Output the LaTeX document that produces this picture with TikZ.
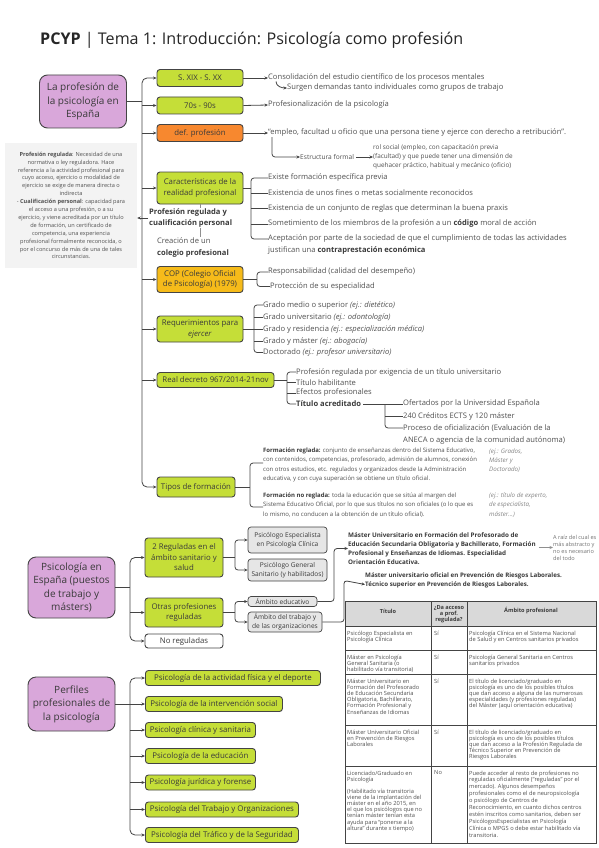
\documentclass[tikz,border=0pt]{standalone}
\usepackage{fontspec}
\setmainfont{Open Sans}
\usetikzlibrary{arrows.meta,calc}
\definecolor{pinkb}{HTML}{D9A7DA}
\definecolor{limeb}{HTML}{C5DE38}
\definecolor{orangeb}{HTML}{F7882F}
\definecolor{goldb}{HTML}{F6BB1A}
\definecolor{grayb}{HTML}{E6E6E6}
\definecolor{notec}{HTML}{F3F3F3}
\definecolor{txt}{HTML}{505050}
\definecolor{btxt}{HTML}{3A3A3A}
\definecolor{linec}{HTML}{444444}
\definecolor{hdr}{HTML}{D9D9D9}
\begin{document}
\begin{tikzpicture}[x=1pt,y=-1pt,
  every node/.style={inner sep=0pt, text=txt},
  box/.style={draw=linec, line width=0.9pt, rounded corners=3pt, align=center, text=btxt, font=\fontsize{7.8}{10.5}\selectfont},
  gbox/.style={box, fill=limeb},
  pbox/.style={box, fill=pinkb, rounded corners=8pt, font=\fontsize{10}{13.5}\selectfont},
  grbox/.style={box, fill=grayb, line width=0.7pt, font=\fontsize{6.6}{8.6}\selectfont},
  conn/.style={draw=linec, line width=0.8pt},
  thinl/.style={draw=linec!60, line width=0.5pt},
  arr/.style={-{Stealth[length=3.5pt,width=3pt]}},
  barr/.style={{Stealth[length=3.5pt,width=3pt]}-{Stealth[length=3.5pt,width=3pt]}},
  lt/.style={anchor=west, font=\fontsize{7.6}{8.5}\selectfont},
  st/.style={anchor=west, font=\fontsize{6}{9.3}\selectfont, align=left},
  ex/.style={anchor=west, font=\fontsize{6.2}{9.3}\selectfont\itshape, align=left, text=txt!70},
  tt/.style={anchor=north west, font=\fontsize{5.7}{6.1}\selectfont, align=left},
]
\useasboundingbox (0,0) rectangle (599,848);
\fill[white] (0,0) rectangle (599,848);

% title
\node[anchor=west, font=\fontsize{16.1}{18}\selectfont, text=black!85] (title) at (40,40) {\textbf{PCYP} | Tema 1: Introducción: Psicología como profesión};

% ---------- section 1
\node[pbox, minimum width=87pt, minimum height=53pt] (lp) at (83,101.5) {La profesión de\\la psicología en\\España};
\node[gbox, minimum width=86pt, minimum height=17pt] (s19) at (200,78) {S. XIX - S. XX};
\node[gbox, minimum width=86pt, minimum height=17pt] (s70) at (200,105.5) {70s - 90s};
\node[box, fill=orangeb, minimum width=86pt, minimum height=17pt] (def) at (200,133) {def. profesión};
\node[gbox, minimum width=86pt, minimum height=32pt] (car) at (200,188) {Características de la\\realidad profesional};
\node[box, fill=goldb, minimum width=86pt, minimum height=26pt] (cop) at (200,279.5) {COP (Colegio Oficial\\de Psicología) (1979)};
\node[gbox, minimum width=86pt, minimum height=26pt] (req) at (200,329) {Requerimientos para\\\textit{ejercer}};
\node[gbox, minimum width=117pt, minimum height=15pt] (rd) at (215.5,380) {Real decreto 967/2014-21nov};
\node[gbox, minimum width=78pt, minimum height=20pt] (tip) at (196,487) {Tipos de formación};

\coordinate (sp) at (142,0);
\draw[conn] (lp.east) -- (sp |- lp.east);
\draw[conn, rounded corners=5pt, barr] (s19.west) -- (sp |- s19.west) -- (sp |- tip.west) -- (tip.west);
\foreach \n in {s70,def,car,cop,req,rd} { \draw[conn, arr] (sp |- \n.west) -- (\n.west); }

% right texts of first boxes
\node[lt] (t1) at (268,78) {Consolidación del estudio científico de los procesos mentales};
\node[lt] (t2) at (287,88) {Surgen demandas tanto individuales como grupos de trabajo};
\node[lt] (t3) at (268,105) {Profesionalización de la psicología};
\node[lt] (t4) at (268,133) {“empleo, facultad u oficio que una persona tiene y ejerce con derecho a retribución”.};
\draw[conn, arr] (s19.east) -- (t1.west);
\draw[conn, arr] (s70.east) -- (t3.west);
\draw[conn, arr] (def.east) -- (t4.west);
\coordinate (c1) at (276,81.5);
\draw[conn, arr] (c1) to[out=-90, in=180] (t2.west);
\coordinate (c2) at (272,137);
\node[lt, font=\fontsize{6.6}{8.5}\selectfont] (ef) at (300,157) {Estructura formal};
\draw[conn, arr, rounded corners=3pt] (c2) |- (ef.west);
\node[anchor=west, font=\fontsize{6.4}{9}\selectfont, align=left] (rol) at (373,157) {rol social (empleo, con capacitación previa\\(facultad) y que puede tener una dimensión de\\quehacer práctico, habitual y mecánico (oficio)};
\draw[conn, arr] ([xshift=2pt]ef.east) -- (rol.west);

% note box
\node[fill=notec, minimum width=132pt, minimum height=125pt, align=center, font=\fontsize{5.6}{7.9}\selectfont] (note) at (71,205.5) {\textbf{Profesión regulada}: Necesidad de una\\normativa o ley reguladora. Hace\\referencia a la actividad profesional para\\cuyo acceso, ejercicio o modalidad de\\ejercicio se exige de manera directa o\\indirecta\\- \textbf{Cualificación personal}: capacidad para\\el acceso a una profesión, o a su\\ejercicio, y viene acreditada por un título\\de formación, un certificado de\\competencia, una experiencia\\profesional formalmente reconocida, o\\por el concurso de más de una de tales\\circunstancias.};

\node[anchor=west, align=left, font=\fontsize{7.6}{11.5}\selectfont\bfseries, text=btxt] (preg) at (149,218) {Profesión regulada y\\cualificación personal};
\node[anchor=north west, align=left, font=\fontsize{7.6}{12.5}\selectfont] (crea) at (157,237) {Creación de un\\\textbf{\textcolor{btxt}{colegio profesional}}};
\draw[thinl] (car.south) -- (car.south |- preg.north);
\draw[thinl] (car.south |- preg.south) -- (car.south |- crea.north);
\draw[conn, arr] ([xshift=-1pt]preg.west) -- (note.east |- preg.west);

% characteristics
\coordinate (bk1) at (251,0);
\node[lt] (e1) at (268,178) {Existe formación específica previa};
\node[lt] (e2) at (268,193) {Existencia de unos fines o metas socialmente reconocidos};
\node[lt] (e3) at (268,208.5) {Existencia de un conjunto de reglas que determinan la buena praxis};
\node[lt] (e4) at (268,224) {Sometimiento de los miembros de la profesión a un \textbf{\textcolor{btxt}{código}} moral de acción};
\node[lt] (e5) at (268,239) {Aceptación por parte de la sociedad de que el cumplimiento de todas las actividades};
\node[lt] (e5b) at (268,250.5) {justifican una \textbf{\textcolor{btxt}{contraprestación económica}}};
\draw[conn] (car.east) -- (bk1 |- car.east);
\draw[conn, rounded corners=3pt] (e1.west) -- (bk1 |- e1.west) -- (bk1 |- e5.west) -- (e5.west);
\foreach \n in {e2,e3,e4} { \draw[conn] (bk1 |- \n.west) -- (\n.west); }

% COP
\coordinate (bk2) at (257,0);
\node[lt] (r1) at (268,272) {Responsabilidad (calidad del desempeño)};
\node[lt] (r2) at (270,286.5) {Protección de su especialidad};
\draw[conn] (cop.east) -- (bk2 |- cop.east);
\draw[conn, rounded corners=3pt] (r1.west) -- (bk2 |- r1.west) -- (bk2 |- r2.west) -- (r2.west);

% requirements
\coordinate (bk3) at (254,0);
\node[lt] (q1) at (263,305) {Grado medio o superior \textit{(ej.: dietético)}};
\node[lt] (q2) at (263,317) {Grado universitario \textit{(ej.: odontología)}};
\node[lt] (q3) at (263,329) {Grado y residencia \textit{(ej.: especialización médica)}};
\node[lt] (q4) at (263,341) {Grado y máster \textit{(ej.: abogacía)}};
\node[lt] (q5) at (263,352.5) {Doctorado \textit{(ej.: profesor universitario)}};
\draw[conn] (req.east) -- (bk3 |- req.east);
\draw[conn, rounded corners=3pt] (q1.west) -- (bk3 |- q1.west) -- (bk3 |- q5.west) -- (q5.west);
\foreach \n in {q2,q3,q4} { \draw[conn] (bk3 |- \n.west) -- (\n.west); }

% real decreto
\coordinate (bk4) at (287,0);
\node[lt] (d1) at (296,372) {Profesión regulada por exigencia de un título universitario};
\node[lt] (d2) at (296,382.5) {Título habilitante};
\node[lt] (d3) at (296,393) {Efectos profesionales};
\node[lt, font=\fontsize{7.6}{8.5}\selectfont\bfseries, text=btxt] (d4) at (296,404) {Título acreditado};
\draw[conn] (rd.east) -- (bk4 |- rd.east);
\draw[conn, rounded corners=3pt] (d1.west) -- (bk4 |- d1.west) -- (bk4 |- d4.west) -- (d4.west);
\foreach \n in {d2,d3} { \draw[conn] (bk4 |- \n.west) -- (\n.west); }
\coordinate (bk5) at (385,0);
\node[lt] (a1) at (403,404) {Ofertados por la Universidad Española};
\node[lt] (a2) at (403,416) {240 Créditos ECTS y 120 máster};
\node[lt] (a3) at (403,428) {Proceso de oficialización (Evaluación de la};
\node[lt] (a3b) at (403,440) {ANECA o agencia de la comunidad autónoma)};
\draw[conn] ([xshift=2pt]d4.east) -- (a1.west);
\draw[conn, rounded corners=3pt] (bk5 |- a1.west) -- (bk5 |- a3.west) -- (a3.west);
\draw[conn] (bk5 |- a2.west) -- (a2.west);

% tipos de formacion
\coordinate (bk6) at (250,0);
\node[st] (fr) at (263,465) {\textbf{\textcolor{btxt}{Formación reglada:}} conjunto de enseñanzas dentro del Sistema Educativo,\\con contenidos, competencias, profesorado, admisión de alumnos, conexión\\con otros estudios, etc. regulados y organizados desde la Administración\\educativa, y con cuya superación se obtiene un título oficial.};
\node[st] (fn) at (263,505) {\textbf{\textcolor{btxt}{Formación no reglada:}} toda la educación que se sitúa al margen del\\Sistema Educativo Oficial, por lo que sus títulos no son oficiales (o lo que es\\lo mismo, no conducen a la obtención de un título oficial).};
\node[ex] (frx) at (489,460.5) {(ej.: Grados,\\Máster y\\Doctorado)};
\node[ex] (fnx) at (489,505) {(ej.: título de experto,\\de especialista,\\máster...)};
\coordinate (f1) at (263,463);
\coordinate (f2) at (263,507);
\draw[conn] (tip.east) -- (bk6 |- tip.east);
\draw[conn, rounded corners=3pt] (f1) -- (bk6 |- f1) -- (bk6 |- f2) -- (f2);

% ---------- section 2
\node[pbox, minimum width=87pt, minimum height=61pt] (pe) at (71.5,587.5) {Psicología en\\España (puestos\\de trabajo y\\másters)};
\coordinate (sp2) at (130,0);
\node[gbox, minimum width=78pt, minimum height=39pt] (reg) at (184,557.5) {2 Reguladas en el\\ámbito sanitario y\\salud};
\node[gbox, minimum width=78pt, minimum height=29pt] (otr) at (184,612.5) {Otras profesiones\\reguladas};
\node[box, fill=white, minimum width=78pt, minimum height=14pt] (nor) at (184,641) {No reguladas};
\draw[conn] (pe.east) -- (sp2 |- pe.east);
\draw[conn, rounded corners=5pt, barr] (reg.west) -- (sp2 |- reg.west) -- (sp2 |- nor.west) -- (nor.west);
\draw[conn, arr] (sp2 |- otr.west) -- (otr.west);

\node[grbox, minimum width=79pt, minimum height=26pt] (pepc) at (287.5,540) {Psicólogo Especialista\\en Psicología Clínica};
\node[grbox, minimum width=79pt, minimum height=22pt] (pgs) at (287.5,570) {Psicólogo General\\Sanitario (y habilitados)};
\node[grbox, minimum width=69pt, minimum height=10pt] (aed) at (282.5,601.5) {Ámbito educativo};
\node[grbox, minimum width=74pt, minimum height=20pt] (atr) at (285,622) {Ámbito del trabajo y\\de las organizaciones};
\coordinate (bk7) at (235,0);
\draw[conn] (reg.east) -- (bk7 |- reg.east);
\draw[conn, rounded corners=3pt, barr] (pepc.west) -- (bk7 |- pepc.west) -- (bk7 |- pgs.west) -- (pgs.west);
\draw[conn] (otr.east) -- (bk7 |- otr.east);
\draw[conn, rounded corners=3pt, barr] (aed.west) -- (bk7 |- aed.west) -- (bk7 |- atr.west) -- (atr.west);

\node[anchor=west, align=left, font=\fontsize{6.3}{9}\selectfont\bfseries, text=btxt] (mf) at (348,548.5) {Máster Universitario en Formación del Profesorado de\\Educación Secundaria Obligatoria y Bachillerato, Formación\\Profesional y Enseñanzas de Idiomas. Especialidad\\Orientación Educativa.};
\node[anchor=west, align=left, font=\fontsize{6.2}{9}\selectfont\bfseries, text=btxt] (mp) at (365,580.5) {Máster universitario oficial en Prevención de Riesgos Laborales.\\Técnico superior en Prevención de Riesgos Laborales.};
\node[anchor=west, align=left, font=\fontsize{5.6}{7}\selectfont, text=txt!80] (nota2) at (553,547.5) {A raíz del cual es\\más abstracto y\\no es necesario\\del todo};
\coordinate (m1) at (334,0);
\coordinate (m2) at (344,0);
\draw[conn, rounded corners=3pt, arr] (aed.east) -- (m1 |- aed.east) -- (m1 |- mf.west) -- (mf.west);
\draw[conn, rounded corners=3pt, arr] (atr.east) -- (m2 |- atr.east) -- (m2 |- mp.west) -- ([yshift=-4pt]mp.west);
\draw[thinl, arr] ([xshift=3pt]mf.east |- nota2.west) -- (nota2.west);

% table
\fill[hdr] (345,601) rectangle (596,626);
\draw[linec, line width=0.5pt] (345,626) -- (596,626) (345,650) -- (596,650) (345,674) -- (596,674) (345,725) -- (596,725) (345,766) -- (596,766);
\draw[linec, line width=0.5pt] (431,601) -- (431,843) (467,601) -- (467,843);
\draw[linec, line width=1pt] (345,601) rectangle (596,843);
\node[font=\fontsize{5.6}{6.2}\selectfont\bfseries, text=btxt] (h1) at (388,611) {Título};
\node[font=\fontsize{5.6}{6.2}\selectfont\bfseries, text=btxt, align=center] (h2) at (449,614) {¿Da acceso\\a prof.\\regulada?};
\node[font=\fontsize{5.6}{6.2}\selectfont\bfseries, text=btxt] (h3) at (531,611) {Ámbito profesional};

\node[tt] (c11) at (347,631) {Psicólogo Especialista en\\Psicología Clínica};
\node[tt] (c12) at (434,631) {Sí};
\node[tt] (c13) at (469,631) {Psicología Clínica en el Sistema Nacional\\de Salud y en Centros sanitarios privados};
\node[tt] (c21) at (347,655) {Máster en Psicología\\General Sanitaria (o\\habilitado vía transitoria)};
\node[tt] (c22) at (434,655) {Sí};
\node[tt] (c23) at (469,655) {Psicología General Sanitaria en Centros\\sanitarios privados};
\node[tt] (c31) at (347,679) {Máster Universitario en\\Formación del Profesorado\\de Educación Secundaria\\Obligatoria, Bachillerato,\\Formación Profesional y\\Enseñanzas de Idiomas};
\node[tt] (c32) at (434,679) {Sí};
\node[tt] (c33) at (469,679) {El título de licenciado/graduado en\\psicología es uno de los posibles títulos\\que dan acceso a alguna de las numerosas\\especialidades (y profesiones reguladas)\\del Máster (aquí orientación educativa)};
\node[tt] (c41) at (347,729.5) {Máster Universitario Oficial\\en Prevención de Riesgos\\Laborales};
\node[tt] (c42) at (434,729.5) {Sí};
\node[tt] (c43) at (469,729.5) {El título de licenciado/graduado en\\psicología es uno de los posibles títulos\\que dan acceso a la Profesión Regulada de\\Técnico Superior en Prevención de\\Riesgos Laborales};
\node[tt] (c51) at (347,770.5) {Licenciado/Graduado en\\Psicología};
\node[tt] (c51b) at (347,789) {(Habilitado vía transitoria\\viene de la implantación del\\máster en el año 2015, en\\el que los psicólogos que no\\tenían máster tenían esta\\ayuda para “ponerse a la\\altura” durante x tiempo)};
\node[tt] (c52) at (434,770.5) {No};
\node[tt, font=\fontsize{5.7}{6.9}\selectfont] (c53) at (469,770.5) {Puede acceder al resto de profesiones no\\reguladas oficialmente (“reguladas” por el\\mercado). Algunos desempeños\\profesionales como el de neuropsicología\\o psicólogo de Centros de\\Reconocimiento, en cuanto dichos centros\\estén inscritos como sanitarios, deben ser\\PsicólogosEspecialistas en Psicología\\Clínica o MPGS o debe estar habilitado vía\\transitoria.};

% ---------- section 3
\node[pbox, minimum width=87pt, minimum height=54pt] (pp) at (71.5,704) {Perfiles\\profesionales de\\la psicología};
\coordinate (sp3) at (130,0);
\tikzset{pg/.style={gbox, anchor=west, minimum height=15pt, font=\fontsize{7.9}{9}\selectfont}}
\node[pg, minimum width=175pt] (p1) at (145,678) {Psicología de la actividad física y el deporte};
\node[pg, minimum width=137pt] (p2) at (145,704) {Psicología de la intervención social};
\node[pg, minimum width=110pt] (p3) at (145,730) {Psicología clínica y sanitaria};
\node[pg, minimum width=110pt] (p4) at (145,756) {Psicología de la educación};
\node[pg, minimum width=110pt] (p5) at (145,782.5) {Psicología jurídica y forense};
\node[pg, minimum width=153pt] (p6) at (145,809.5) {Psicología del Trabajo y Organizaciones};
\node[pg, minimum width=153pt] (p7) at (145,835) {Psicología del Tráfico y de la Seguridad};
\draw[conn] (pp.east) -- (sp3 |- pp.east);
\draw[conn, rounded corners=5pt, barr] (p1.west) -- (sp3 |- p1.west) -- (sp3 |- p7.west) -- (p7.west);
\foreach \n in {p2,p3,p4,p5,p6} { \draw[conn, arr] (sp3 |- \n.west) -- (\n.west); }
\end{tikzpicture}
\end{document}
